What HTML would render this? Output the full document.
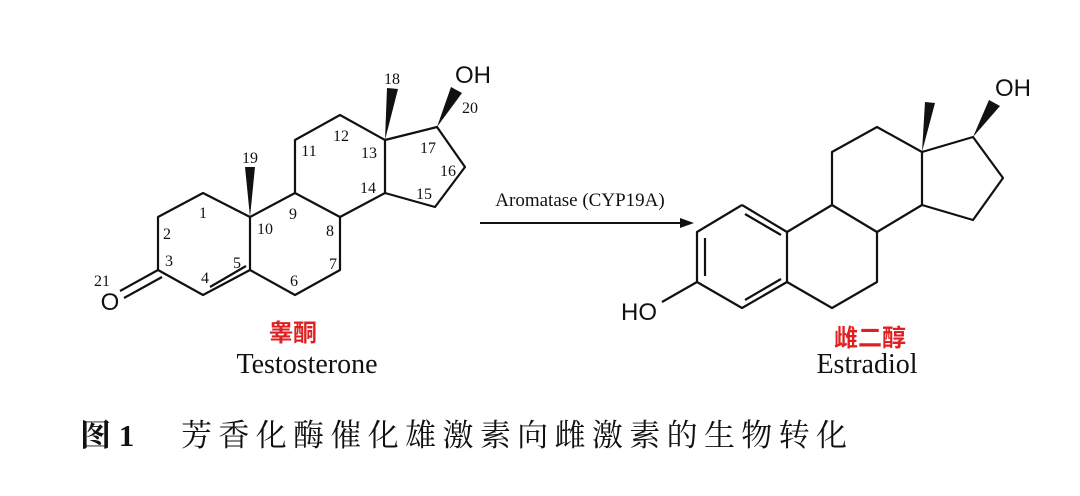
<!DOCTYPE html>
<html><head><meta charset="utf-8"><style>
html,body{margin:0;padding:0;background:#fff;}
svg{display:block}
.n{font-family:"Liberation Serif",serif;font-size:16px;fill:#111}
.s{font-family:"Liberation Sans",sans-serif;font-size:24px;fill:#111}
</style></head><body>
<svg width="1080" height="496" viewBox="0 0 1080 496" xmlns="http://www.w3.org/2000/svg">
<rect width="1080" height="496" fill="#fff"/>
<g stroke="#111" stroke-width="2.2" fill="none" stroke-linejoin="round">
<!-- Testosterone -->
<polyline points="250,217 203,193 158,217 158,270 203,295 250,270 250,217 295,193 340,217 340,270 295,295 250,270"/>
<polyline points="295,193 295,140 340,115 385,140 385,193 340,217"/>
<polyline points="385,140 437,127 465,167 435,207 385,193"/>
<line x1="210" y1="287" x2="246" y2="266"/>
<line x1="158" y1="270" x2="120" y2="291"/>
<line x1="162" y1="277" x2="124" y2="298"/>
<!-- Estradiol -->
<polyline points="742,205 787,232 787,282 742,308 697,282 697,232 742,205"/>
<line x1="745" y1="214" x2="781" y2="235"/>
<line x1="781" y1="279" x2="745" y2="300"/>
<line x1="705" y1="238" x2="705" y2="276"/>
<polyline points="787,232 832,205 877,232 877,282 832,308 787,282"/>
<polyline points="832,205 832,152 877,127 922,152 922,205 877,232"/>
<polyline points="922,152 973,137 1003,178 973,220 922,205"/>
<line x1="697" y1="282" x2="662" y2="302"/>
<!-- arrow -->
<line x1="480" y1="223" x2="682" y2="223" stroke-width="2"/>
</g>
<g fill="#111">
<polygon points="250,217 245,167 255,167"/>
<polygon points="385,140 387,88 398,89"/>
<polygon points="437,127 451,87 462,93"/>
<polygon points="922,152 925,102 935,103"/>
<polygon points="973,137 989,100 1000,106"/>
<polygon points="694,223 680,218 680,228"/>
</g>
<g class="n" text-anchor="middle">
<text x="392" y="84">18</text>
<text x="470" y="113">20</text>
<text x="250" y="163">19</text>
<text x="309" y="156">11</text>
<text x="341" y="141">12</text>
<text x="369" y="158">13</text>
<text x="428" y="153">17</text>
<text x="448" y="176">16</text>
<text x="368" y="193">14</text>
<text x="424" y="199">15</text>
<text x="203" y="218">1</text>
<text x="293" y="219">9</text>
<text x="265" y="234">10</text>
<text x="330" y="236">8</text>
<text x="167" y="239">2</text>
<text x="333" y="269">7</text>
<text x="169" y="266">3</text>
<text x="237" y="268">5</text>
<text x="205" y="283">4</text>
<text x="294" y="286">6</text>
<text x="102" y="286">21</text>
</g>
<text class="s" x="110" y="310" text-anchor="middle">O</text>
<text class="s" x="473" y="83" text-anchor="middle">OH</text>
<text class="s" x="639" y="320" text-anchor="middle">HO</text>
<text class="s" x="1013" y="96" text-anchor="middle">OH</text>
<text x="580" y="206" text-anchor="middle" font-family="Liberation Serif,serif" font-size="19" fill="#111">Aromatase (CYP19A)</text>
<text x="293" y="341" text-anchor="middle" font-family="'Liberation Sans','Noto Sans CJK SC',sans-serif" font-weight="bold" font-size="24" fill="#e02020">睾酮</text>
<text x="307" y="373" text-anchor="middle" font-family="Liberation Serif,serif" font-size="28" fill="#111">Testosterone</text>
<text x="870" y="346" text-anchor="middle" font-family="'Liberation Sans','Noto Sans CJK SC',sans-serif" font-weight="bold" font-size="24" fill="#e02020">雌二醇</text>
<text x="867" y="373" text-anchor="middle" font-family="Liberation Serif,serif" font-size="28" fill="#111">Estradiol</text>
<text x="80" y="446" font-family="'Liberation Serif','Noto Serif CJK SC',serif" font-weight="bold" font-size="31" fill="#111">图 1</text>
<text x="181" y="446" font-family="'Liberation Serif','Noto Serif CJK SC',serif" font-size="31" fill="#111" textLength="666" lengthAdjust="spacing">芳香化酶催化雄激素向雌激素的生物转化</text>
</svg>
</body></html>
